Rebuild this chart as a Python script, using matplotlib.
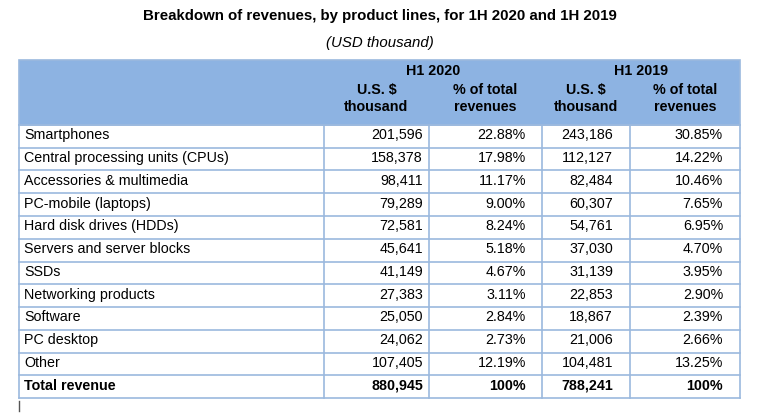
import matplotlib
matplotlib.use("Agg")
import matplotlib.pyplot as plt
from matplotlib.patches import Rectangle

plt.rcParams['font.family'] = ['Liberation Sans', 'DejaVu Sans']

title = 'Breakdown of revenues, by product lines, for 1H 2020 and 1H 2019'
subtitle = '(USD thousand)'
periods = ['H1 2020', 'H1 2019']
subheads = [['U.S. $', 'thousand'], ['% of total', 'revenues']]

products = ['Smartphones', 'Central processing units (CPUs)', 'Accessories & multimedia',
            'PC-mobile (laptops)', 'Hard disk drives (HDDs)', 'Servers and server blocks',
            'SSDs', 'Networking products', 'Software', 'PC desktop', 'Other']
rev_2020 = [201596, 158378, 98411, 79289, 72581, 45641, 41149, 27383, 25050, 24062, 107405]
pct_2020 = [22.88, 17.98, 11.17, 9.00, 8.24, 5.18, 4.67, 3.11, 2.84, 2.73, 12.19]
rev_2019 = [243186, 112127, 82484, 60307, 54761, 37030, 31139, 22853, 18867, 21006, 104481]
pct_2019 = [30.85, 14.22, 10.46, 7.65, 6.95, 4.70, 3.95, 2.90, 2.39, 2.66, 13.25]
total_label = 'Total revenue'
total_2020 = 880945
total_2019 = 788241

W, H = 758, 415
fig = plt.figure(figsize=(W / 100, H / 100), dpi=100)
ax = fig.add_axes([0, 0, 1, 1])
ax.set_xlim(0, W)
ax.set_ylim(H, 0)
ax.axis('off')

line_c = '#9bb9de'
head_c = '#8db3e2'
fs = 10.3
fs_t = 10.8

# column edges and row edges (pixels)
cols = [19, 324, 429, 542, 630, 740]
pads = [5, 6, 16, 17, 17]
head_top, head_bot = 60, 125
row_h = 22.75
n_rows = len(products) + 1
rows = [head_bot + i * row_h for i in range(n_rows + 1)]

ax.text(380, 16, title, ha='center', va='center', fontsize=fs_t, fontweight='bold')
ax.text(380, 43, subtitle, ha='center', va='center', fontsize=fs_t, fontstyle='italic')

ax.add_patch(Rectangle((cols[0], head_top), cols[-1] - cols[0], head_bot - head_top,
                       facecolor=head_c, edgecolor=line_c, lw=1.2))

for j, p in enumerate(periods):
    xc = (cols[1 + 2 * j] + cols[3 + 2 * j]) / 2
    ax.text(xc, 71, p, ha='center', va='center', fontsize=fs, fontweight='bold')
    for k, s in enumerate(subheads):
        c = 1 + 2 * j + k
        xm = (cols[c] + cols[c + 1]) / 2
        ax.text(xm, 90, s[0], ha='center', va='center', fontsize=fs, fontweight='bold')
        ax.text(xm, 107, s[1], ha='center', va='center', fontsize=fs, fontweight='bold')

# grid lines of the body
for y in rows:
    ax.plot([cols[0], cols[-1]], [y, y], color=line_c, lw=1.2)
for x in cols:
    ax.plot([x, x], [rows[0], rows[-1]], color=line_c, lw=1.2)

body = []
for i in range(len(products)):
    body.append(([products[i], f'{rev_2020[i]:,}', f'{pct_2020[i]:.2f}%',
                  f'{rev_2019[i]:,}', f'{pct_2019[i]:.2f}%'], 'normal'))
body.append(([total_label, f'{total_2020:,}', '100%', f'{total_2019:,}', '100%'], 'bold'))

for i, (cells, wt) in enumerate(body):
    yc = rows[i] + row_h / 2 - 1
    for c, t in enumerate(cells):
        if c == 0:
            ax.text(cols[0] + pads[0], yc, t, ha='left', va='center', fontsize=fs, fontweight=wt)
        else:
            ax.text(cols[c + 1] - pads[c], yc, t, ha='right', va='center', fontsize=fs, fontweight=wt)

# cursor mark below the table
ax.plot([19, 19], [401, 411], color='#555555', lw=1)

fig.savefig('out.png', dpi=100)
